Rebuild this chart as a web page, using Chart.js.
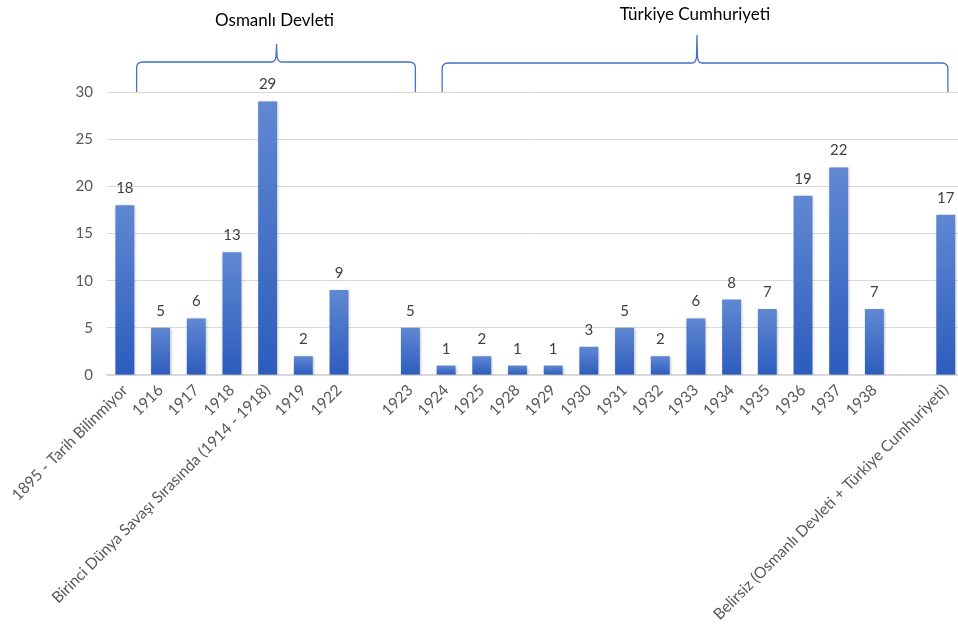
<!DOCTYPE html>
<html lang="tr">
<head>
<meta charset="utf-8">
<title>Yıllara göre dağılım</title>
<script src="https://cdn.jsdelivr.net/npm/chart.js@4/dist/chart.umd.min.js"></script>
<style>
  html, body { margin: 0; padding: 0; background: #fff; overflow: hidden; }
  #wrap { width: 965px; height: 631px; }
</style>
</head>
<body>
<div id="wrap"><canvas id="chart" width="965" height="631"></canvas></div>
<script>
// Categories along the x axis ('' marks an empty spacer slot)
const categories = [
  '1895 - Tarih Bilinmiyor', '1916', '1917', '1918',
  'Birinci Dünya Savaşı Sırasında (1914 - 1918)', '1919', '1922', '',
  '1923', '1924', '1925', '1928', '1929', '1930', '1931', '1932',
  '1933', '1934', '1935', '1936', '1937', '1938', '',
  'Belirsiz (Osmanlı Devleti + Türkiye Cumhuriyeti)'
];

// Count per category
const counts = [
  18, 5, 6, 13, 29, 2, 9, null,
  5, 1, 2, 1, 1, 3, 5, 2, 6, 8, 7, 19, 22, 7, null,
  17
];

// Y axis ticks
const yTicks = [0, 5, 10, 15, 20, 25, 30];

// Period groups shown as braces above the bars (spans in category index units)
const groupNames = ['Osmanlı Devleti', 'Türkiye Cumhuriyeti'];
const groupFrom  = [0.33, 8.89];
const groupTo    = [8.14, 23.06];
const groupPeak  = [4.25, 16.03];

const FONT = 'Lato, "Open Sans", sans-serif';
const BAR_TOP = '#6088d2';
const BAR_BOTTOM = '#2c5cbd';

// Per-bar vertical gradient, light at the top, darker at the base
function barFill(ctx) {
  const chart = ctx.chart;
  const y = chart.scales && chart.scales.y;
  if (!chart.chartArea || !y || ctx.raw == null) return '#4472c4';
  const top = y.getPixelForValue(ctx.raw);
  const bottom = y.getPixelForValue(0);
  const g = chart.ctx.createLinearGradient(0, top, 0, bottom);
  g.addColorStop(0, BAR_TOP);
  g.addColorStop(1, BAR_BOTTOM);
  return g;
}

// Soft shadow behind the bars
const barShadow = {
  id: 'barShadow',
  beforeDatasetsDraw(chart) {
    const c = chart.ctx;
    c.save();
    c.shadowColor = 'rgba(0,0,0,0.28)';
    c.shadowBlur = 3;
    c.shadowOffsetX = 1;
    c.shadowOffsetY = 1;
  },
  afterDatasetsDraw(chart) {
    chart.ctx.restore();
  }
};

// Value labels above each bar
const valueLabels = {
  id: 'valueLabels',
  afterDatasetsDraw(chart) {
    const c = chart.ctx;
    const meta = chart.getDatasetMeta(0);
    c.save();
    c.font = '15px ' + FONT;
    c.fillStyle = '#404040';
    c.textAlign = 'center';
    c.textBaseline = 'alphabetic';
    meta.data.forEach((bar, i) => {
      const v = counts[i];
      if (v == null) return;
      c.fillText(String(v), bar.x, bar.y - 12);
    });
    c.restore();
  }
};

// Braces with group titles above the plot
const groupBraces = {
  id: 'groupBraces',
  afterDraw(chart) {
    const x = chart.scales.x;
    const area = chart.chartArea;
    const x0 = x.getPixelForValue(0);
    const step = x.getPixelForValue(1) - x0;
    const px = (f) => x0 + f * step;
    const c = chart.ctx;
    const lineY = [62, 63];
    const peakY = [44, 35];
    const titleY = [21, 15];
    c.save();
    c.strokeStyle = '#4472c4';
    c.lineWidth = 1.3;
    groupNames.forEach((name, k) => {
      const a = px(groupFrom[k]);
      const b = px(groupTo[k]);
      const m = px(groupPeak[k]);
      const ly = lineY[k];
      const py = peakY[k];
      const bottom = area.top;
      const r = 6;
      c.beginPath();
      c.moveTo(a, bottom);
      c.lineTo(a, ly + r);
      c.quadraticCurveTo(a, ly, a + r, ly);
      c.lineTo(m - 5, ly);
      c.quadraticCurveTo(m - 1, ly, m - 0.5, ly - 6);
      c.lineTo(m, py);
      c.moveTo(m, py);
      c.lineTo(m + 0.5, ly - 6);
      c.quadraticCurveTo(m + 1, ly, m + 5, ly);
      c.lineTo(b - r, ly);
      c.quadraticCurveTo(b, ly, b, ly + r);
      c.lineTo(b, bottom);
      c.stroke();

      c.fillStyle = '#000';
      c.font = '17px ' + FONT;
      c.textAlign = 'center';
      c.textBaseline = 'middle';
      c.fillText(name, m - 2, titleY[k]);
    });
    c.restore();
  }
};

new Chart(document.getElementById('chart'), {
  type: 'bar',
  data: {
    labels: categories,
    datasets: [{
      data: counts,
      backgroundColor: barFill,
      borderWidth: 0,
      barPercentage: 0.53,
      categoryPercentage: 1.0
    }]
  },
  options: {
    responsive: false,
    animation: false,
    layout: { padding: { top: 92, left: 0, right: 0, bottom: 0 } },
    plugins: {
      legend: { display: false },
      tooltip: { enabled: false }
    },
    scales: {
      x: {
        grid: { display: false, drawTicks: false },
        border: { display: true, color: '#d9d9d9', width: 1.5 },
        ticks: {
          autoSkip: false,
          minRotation: 45,
          maxRotation: 45,
          padding: 6,
          color: '#595959',
          font: { family: FONT, size: 15.6 }
        },
        afterFit(scale) { scale.height = 256; }
      },
      y: {
        min: 0,
        max: 30,
        afterBuildTicks(scale) { scale.ticks = yTicks.map(v => ({ value: v })); },
        grid: { color: '#d9d9d9', lineWidth: 1, drawTicks: false },
        border: { display: false },
        ticks: {
          padding: 14,
          color: '#595959',
          font: { family: FONT, size: 15 }
        },
        afterFit(scale) { scale.width = 107; }
      }
    }
  },
  plugins: [barShadow, valueLabels, groupBraces]
});
</script>
</body>
</html>
